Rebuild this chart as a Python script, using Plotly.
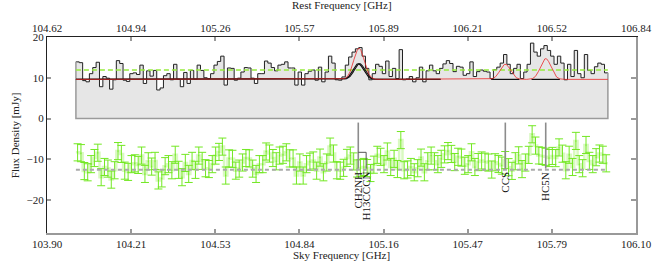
import numpy as np
import plotly.graph_objects as go

# ---------------- data ----------------
flux = [13.9, 13.7, 9.3, 9.0, 11.0, 12.5, 13.8, 7.8, 10.3, 9.9,
        7.2, 9.5, 14.2, 13.5, 9.4, 9.1, 11.0, 11.2, 10.8, 13.1,
        8.6, 11.7, 10.4, 11.8, 7.0, 7.5, 10.5, 11.0, 9.5, 13.3,
        9.6, 7.8, 11.3, 8.6, 11.8, 9.6, 13.1, 11.8, 10.0, 9.8,
        11.0, 13.1, 14.0, 15.3, 8.2, 12.4, 12.3, 9.4, 9.9, 11.4,
        12.5, 12.4, 9.9, 8.6, 11.0, 11.0, 14.1, 13.6, 12.5, 11.7,
        13.1, 13.3, 13.9, 12.4, 12.4, 8.2, 11.4, 8.2, 11.0, 11.6,
        11.9, 9.4, 12.6, 9.0, 11.4, 15.3, 13.6, 9.5, 9.4, 10.2,
        13.1, 15.1, 16.3, 17.1, 17.4, 15.3, 12.3, 9.5, 11.0, 13.3,
        12.8, 11.0, 14.1, 10.3, 12.3, 9.8, 16.9, 9.5, 9.7, 10.3,
        9.0, 10.0, 12.6, 9.0, 11.7, 13.1, 11.7, 11.0, 12.3, 13.4,
        14.2, 13.5, 11.5, 12.8, 12.6, 10.6, 11.0, 13.9, 10.3, 11.5,
        11.9, 11.6, 11.4, 9.8, 12.0, 12.6, 13.6, 15.7, 13.3, 11.0,
        12.3, 13.3, 9.8, 11.4, 13.3, 18.5, 16.3, 15.3, 17.1, 17.9,
        16.7, 15.3, 13.3, 15.3, 13.6, 9.5, 13.3, 10.3, 16.7, 11.0,
        10.0, 15.7, 11.8, 11.0, 12.7, 13.6, 13.3, 11.2]

chan_start = 104.008      # sky GHz, left edge of first channel
chan_width = 0.012576     # GHz
continuum = 9.6           # mJy
mean_level = 11.9         # mJy
resid_offset = -12.6      # mJy
resid_err = 2.1           # mJy
redshift = 0.006961

line_names = ["CH2NH", "H13CCCN", "CCS", "HC5N"]
line_rest = [105.794, 105.799, 106.347, 106.499]   # GHz
line_amp = [3.85, 3.85, 3.7, 5.1]                  # mJy
line_sigma = 0.0195                                # GHz

sky_range = [103.90, 106.10]
sky_ticks = ["103.90", "104.21", "104.53", "104.84", "105.16", "105.47", "105.79", "106.10"]
rest_ticks = ["104.62", "104.94", "105.26", "105.57", "105.89", "106.21", "106.52", "106.84"]
y_ticks = [-20, -10, 0, 10, 20]
y_ticktext = ["\u221220", "\u221210", "0", "10", "20"]

# ---------------- derived ----------------
flux = np.array(flux)
N = len(flux)
edges = chan_start + chan_width * np.arange(N + 1)
centers = edges[:-1] + chan_width / 2
x0, x1 = edges[0], edges[-1]
line_sky = [f / (1 + redshift) for f in line_rest]


def gauss(x, c, a):
    return a * np.exp(-0.5 * ((x - c) / line_sigma) ** 2)


def model(x):
    m = np.full_like(x, continuum, dtype=float)
    for c, a in zip(line_sky, line_amp):
        m += gauss(x, c, a)
    return m


xm = np.linspace(x0, x1, 2000)
resid = flux - model(centers) + resid_offset

FONT = "Liberation Serif, Times New Roman, serif"

fig = go.Figure()

# spectrum fill + step line
fig.add_trace(go.Scatter(x=edges, y=np.append(flux, flux[-1]), mode="lines",
                         line=dict(color="#222222", width=1, shape="hv"),
                         fill="tozeroy", fillcolor="#e6e6e6", hoverinfo="skip"))
# fill outline
fig.add_trace(go.Scatter(x=[x0, x0, x1, x1], y=[flux[0], 0, 0, flux[-1]], mode="lines",
                         line=dict(color="#9a9a9a", width=1.5), hoverinfo="skip"))
# mean level
fig.add_trace(go.Scatter(x=[x0, x1], y=[mean_level, mean_level], mode="lines",
                         line=dict(color="rgb(150,235,60)", width=1.5, dash="5px,3px")))

# black components
win1 = np.linspace(x0, 105.37, 1200)
for k in (0, 1):
    fig.add_trace(go.Scatter(x=win1, y=continuum + gauss(win1, line_sky[k], line_amp[k]),
                             mode="lines", line=dict(color="#111111", width=1.1)))
for k in (2, 3):
    fig.add_trace(go.Scatter(x=[line_sky[k] - 0.053, line_sky[k] + 0.053],
                             y=[continuum, continuum], mode="lines",
                             line=dict(color="#111111", width=1.2)))
# red model
fig.add_trace(go.Scatter(x=xm, y=model(xm), mode="lines",
                         line=dict(color="rgba(235,40,40,0.8)", width=1)))

# residuals
fig.add_trace(go.Scatter(x=edges, y=np.append(resid, resid[-1]), mode="lines",
                         line=dict(color="rgba(130,235,50,0.3)", width=2.5, shape="hv")))
fig.add_trace(go.Scatter(x=centers, y=resid, mode="markers",
                         marker=dict(size=1, color="rgb(115,232,35)"),
                         error_y=dict(type="constant", value=resid_err, color="rgb(115,232,35)",
                                      thickness=1, width=4)))
fig.add_trace(go.Scatter(x=[x0, x1], y=[resid_offset, resid_offset], mode="lines",
                         line=dict(color="#aaaaaa", width=2, dash="4px,3px")))

# line markers
label_top = -12.6
min_sep = 0.0294
label_x = []
for i, xs in enumerate(line_sky):
    lx = xs if not label_x else max(xs, label_x[-1] + min_sep)
    label_x.append(lx)
for i, (xs, lx) in enumerate(zip(line_sky, label_x)):
    if abs(lx - xs) < 1e-6:
        fig.add_trace(go.Scatter(x=[xs, xs], y=[-1.0, -12.3], mode="lines",
                                 line=dict(color="#8c8c8c", width=1.6)))
    else:
        base = label_x[i - 1]
        fig.add_trace(go.Scatter(x=[base, lx, lx], y=[-8.3, -8.3, -12.3], mode="lines",
                                 line=dict(color="#555555", width=1)))
    fig.add_annotation(x=lx, y=label_top, text=line_names[i], textangle=-90,
                       showarrow=False, xanchor="center", yanchor="top",
                       font=dict(size=11, color="#111111", family=FONT))

# dummy traces for secondary axes
fig.add_trace(go.Scatter(x=[None], y=[None], xaxis="x2", yaxis="y2", showlegend=False))

fig.update_layout(
    width=664, height=266,
    margin=dict(l=47, r=19, t=37, b=33),
    plot_bgcolor="white", paper_bgcolor="white", showlegend=False,
    font=dict(family=FONT, size=11, color="#222222"),
    xaxis=dict(range=sky_range, tickvals=list(np.linspace(sky_range[0], sky_range[1], 8)),
               ticktext=sky_ticks, ticks="inside", ticklen=4, tickcolor="#999999", tickwidth=1.5,
               showline=True, linecolor="#999999", linewidth=2, showgrid=False, zeroline=False),
    xaxis2=dict(overlaying="x", side="top",
                range=[sky_range[0] * (1 + redshift), sky_range[1] * (1 + redshift)],
                tickvals=list(np.linspace(sky_range[0] * (1 + redshift), sky_range[1] * (1 + redshift), 8)),
                ticktext=rest_ticks, ticks="inside", ticklen=4, tickcolor="#999999", tickwidth=1.5,
                showline=True, linecolor="#222222", linewidth=1, showgrid=False, zeroline=False),
    yaxis=dict(range=[-28.1, 20], tickvals=y_ticks, ticktext=y_ticktext, ticks="inside",
               ticklen=4, tickcolor="#999999", tickwidth=1.5, showline=True, linecolor="#222222",
               linewidth=1, showgrid=False, zeroline=False),
    yaxis2=dict(overlaying="y", side="right", range=[-28.1, 20], tickvals=y_ticks,
                showticklabels=False, ticks="inside", ticklen=5, tickcolor="#999999", tickwidth=1.5,
                showline=True, linecolor="#999999", linewidth=2, showgrid=False, zeroline=False),
)

fig.add_annotation(xref="paper", yref="paper", x=0.5, y=1.162, text="Rest Frequency [GHz]",
                   showarrow=False, xanchor="center", yanchor="middle", font=dict(size=11))
fig.add_annotation(xref="paper", yref="paper", x=0.5, y=-0.112, text="Sky Frequency [GHz]",
                   showarrow=False, xanchor="center", yanchor="middle", font=dict(size=11))
fig.add_annotation(xref="paper", yref="paper", x=-0.054, y=0.5, text="Flux Density [mJy]",
                   textangle=-90, showarrow=False, xanchor="center", yanchor="middle",
                   font=dict(size=11))

fig.write_html("out.html", config={"displayModeBar": False},
               post_script="document.body.style.margin='0px';document.body.style.overflow='hidden';")
